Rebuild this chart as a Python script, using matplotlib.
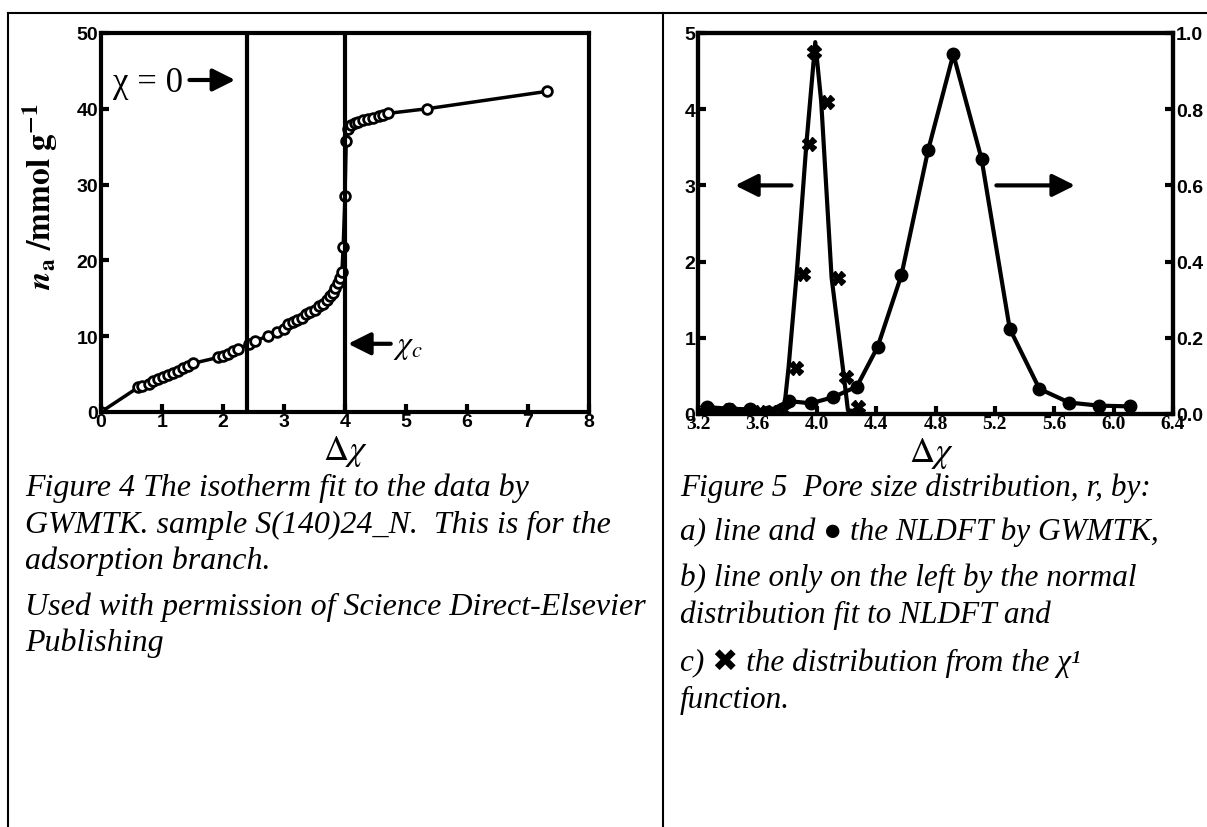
"""
Isotherm fit (Figure 4) and pore size distribution (Figure 5)
"""
import matplotlib
matplotlib.use('Agg')
import matplotlib.pyplot as plt
from matplotlib.lines import Line2D

plt.rcParams['mathtext.fontset'] = 'stix'

# ---- Figure 4 data: isotherm (adsorption branch) ----
iso_x = [0.00, 0.61, 0.68, 0.78, 0.86, 0.94, 1.02, 1.10, 1.18, 1.27, 1.35, 1.43,
         1.50, 1.92, 2.00, 2.09, 2.17, 2.25, 2.42, 2.52, 2.74, 2.88, 3.00, 3.07,
         3.15, 3.22, 3.29, 3.36, 3.43, 3.51, 3.58, 3.64, 3.70, 3.75, 3.80, 3.84,
         3.88, 3.92, 3.95, 3.97, 4.00, 4.02, 4.05, 4.10, 4.16, 4.22, 4.30, 4.38,
         4.46, 4.55, 4.63, 4.71, 5.34, 7.31]
iso_y = [0.0, 3.25, 3.45, 3.70, 4.05, 4.35, 4.60, 4.88, 5.15, 5.45, 5.80, 6.10,
         6.40, 7.20, 7.45, 7.66, 8.00, 8.30, 8.97, 9.40, 10.0, 10.5, 11.0, 11.6,
         11.9, 12.2, 12.4, 12.9, 13.2, 13.5, 14.0, 14.3, 14.8, 15.3, 15.7, 16.4,
         17.0, 17.7, 18.5, 21.8, 28.5, 35.8, 37.3, 37.8, 38.1, 38.3, 38.5, 38.7,
         38.8, 39.0, 39.2, 39.4, 40.0, 42.3]
chi_zero = 2.4
chi_c = 4.0

# ---- Figure 5 data ----
# a) NLDFT by GWMTK (right axis)
nldft_x = [3.26, 3.41, 3.55, 3.67, 3.81, 3.96, 4.11, 4.27, 4.41, 4.57, 4.75, 4.92,
           5.11, 5.30, 5.50, 5.70, 5.90, 6.11]
nldft_y = [0.018, 0.014, 0.012, 0.006, 0.034, 0.028, 0.044, 0.072, 0.176, 0.364,
           0.692, 0.944, 0.670, 0.224, 0.066, 0.030, 0.022, 0.020]
# b) normal distribution fit (left axis, line only)
norm_x = [3.20, 3.50, 3.78, 3.81, 3.865, 3.93, 3.99, 4.03, 4.10, 4.18, 4.21, 4.30]
norm_y = [0.05, 0.05, 0.06, 0.61, 1.84, 3.54, 4.88, 4.10, 1.79, 0.54, 0.05, 0.02]
# c) distribution from the chi^1 function (left axis)
chi1_x = [3.26, 3.41, 3.55, 3.62, 3.70, 3.77, 3.86, 3.91, 3.95, 3.98, 4.07, 4.14,
          4.20, 4.28]
chi1_y = [0.06, 0.05, 0.04, 0.03, 0.03, 0.05, 0.61, 1.84, 3.54, 4.75, 4.09, 1.79,
          0.48, 0.09]

W, H = 1207, 828
fig = plt.figure(figsize=(W / 100, H / 100), dpi=100)
fig.patch.set_facecolor('white')


def px_axes(x0, y0, x1, y1):
    return fig.add_axes([x0 / W, 1 - y1 / H, (x1 - x0) / W, (y1 - y0) / H])


def style_axes(ax):
    for s in ax.spines.values():
        s.set_linewidth(3)
    ax.tick_params(direction='in', length=6, width=3, labelsize=14)


bold_sans = {'family': 'Liberation Sans', 'weight': 'bold', 'size': 14}
serif = 'Liberation Serif'
arrow_kw = dict(arrowstyle='-|>', lw=3, color='black', mutation_scale=34,
                shrinkA=0, shrinkB=0)

# ---------------- Figure 4 ----------------
ax1 = px_axes(101, 34, 589, 413)
style_axes(ax1)
ax1.plot(iso_x, iso_y, '-', color='black', lw=2.5, marker='o', ms=7,
         mfc='white', mec='black', mew=2)
ax1.axvline(chi_zero, color='black', lw=3)
ax1.axvline(chi_c, color='black', lw=3)
ax1.set_xlim(0, 8)
ax1.set_ylim(0, 50)
ax1.set_xticks(range(0, 9))
ax1.set_yticks(range(0, 51, 10))
ax1.tick_params(axis='x', pad=1)
ax1.tick_params(axis='y', pad=2)
for lab in ax1.get_xticklabels() + ax1.get_yticklabels():
    lab.set_fontproperties(bold_sans)
ax1.set_xlabel(r'$\Delta\chi$', fontsize=25)
ax1.xaxis.set_label_coords(0.5, -0.055)
ax1.set_ylabel(r'$\mathbfit{n}_{\mathbf{a}}\ \mathbf{/mmol\ g^{-1}}$',
               fontsize=24)
ax1.yaxis.set_label_coords(-0.085, 0.57)

ax1.text(0.2, 43.5, 'χ = 0', family=serif, fontsize=25, va='center', ha='left')
ax1.annotate('', xy=(2.2, 43.8), xytext=(1.45, 43.8), arrowprops=arrow_kw)
ax1.annotate('', xy=(4.05, 9.0), xytext=(4.75, 9.0), arrowprops=arrow_kw)
ax1.text(4.78, 8.8, r'$\chi_c$', fontsize=23, va='center', ha='left')

# ---------------- Figure 5 ----------------
ax2 = px_axes(698, 34, 1173, 415)
style_axes(ax2)
ax2.plot(norm_x, norm_y, '-', color='black', lw=3)
ax2.plot(chi1_x, chi1_y, linestyle='none', marker='X', ms=10, color='black')
ax2.set_xlim(3.2, 6.4)
ax2.set_ylim(0, 5)
xt = [3.2, 3.6, 4.0, 4.4, 4.8, 5.2, 5.6, 6.0, 6.4]
ax2.set_xticks(xt)
ax2.set_xticklabels(['%.1f' % v for v in xt])
ax2.set_yticks(range(0, 6))
ax2.tick_params(axis='x', pad=1)
ax2.tick_params(axis='y', pad=2)
for lab in ax2.get_xticklabels():
    lab.set_fontproperties({'family': serif, 'weight': 'bold', 'size': 14})
for lab in ax2.get_yticklabels():
    lab.set_fontproperties(bold_sans)
ax2.set_xlabel(r'$\Delta\chi$', fontsize=25)
ax2.xaxis.set_label_coords(0.49, -0.055)

ax2r = ax2.twinx()
ax2r.plot(nldft_x, nldft_y, '-', color='black', lw=3, marker='o', ms=9)
ax2r.set_ylim(0, 1)
ax2r.set_yticks([0.0, 0.2, 0.4, 0.6, 0.8, 1.0])
ax2r.set_yticklabels(['0.0', '0.2', '0.4', '0.6', '0.8', '1.0'])
ax2r.tick_params(direction='in', length=6, width=3, pad=2)
for lab in ax2r.get_yticklabels():
    lab.set_fontproperties(bold_sans)
for s in ax2r.spines.values():
    s.set_linewidth(3)

ax2.annotate('', xy=(3.45, 3.0), xytext=(3.83, 3.0), arrowprops=arrow_kw)
ax2.annotate('', xy=(5.74, 3.0), xytext=(5.21, 3.0), arrowprops=arrow_kw)

# ---------------- page frame ----------------
def frame_line(xs, ys):
    fig.add_artist(Line2D([x / W for x in xs], [1 - y / H for y in ys],
                          color='black', lw=1.5))


frame_line([8, W], [14, 14])
frame_line([8, 8], [14, H])
frame_line([663, 663], [14, H])

# ---------------- captions ----------------
cap_font = ['Liberation Serif', 'DejaVu Sans']
left_caption = [
    (488, 'Figure 4 The isotherm fit to the data by'),
    (525, 'GWMTK. sample S(140)24_N.  This is for the'),
    (561, 'adsorption branch.'),
    (607, 'Used with permission of Science Direct-Elsevier'),
    (643, 'Publishing'),
]
right_caption = [
    (488, 'Figure 5  Pore size distribution, r, by:'),
    (532, 'a) line and ● the NLDFT by GWMTK,'),
    (578, 'b) line only on the left by the normal'),
    (615, 'distribution fit to NLDFT and'),
    (663, 'c) ✖ the distribution from the χ¹'),
    (700, 'function.'),
]
for y, s in left_caption:
    fig.text(25 / W, 1 - y / H, s, family=cap_font, style='italic',
             fontsize=23, va='center', ha='left')
for y, s in right_caption:
    fig.text(680 / W, 1 - y / H, s, family=cap_font, style='italic',
             fontsize=22.5, va='center', ha='left')

fig.savefig('out.png', dpi=100)
